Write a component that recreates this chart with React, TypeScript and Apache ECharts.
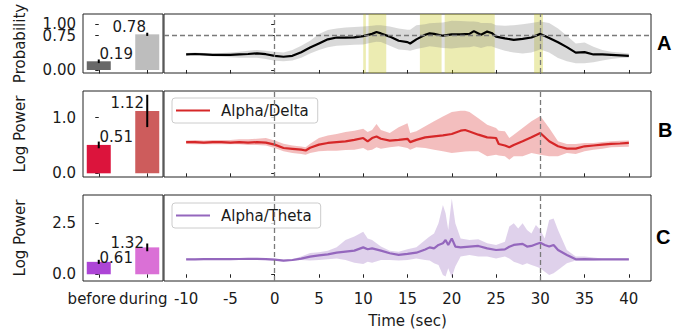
import React, { useEffect, useRef } from 'react';
import * as echarts from 'echarts';

// ---------- data ----------
const barCats = ['before', 'during'];
const probMeans = [0.19, 0.78];
const probErr = [0.04, 0.035];
const adMeans = [0.51, 1.12];
const adErr = [0.06, 0.29];
const atMeans = [0.61, 1.32];
const atErr = [0.1, 0.19];

const timeTicks = [-10, -5, 0, 5, 10, 15, 20, 25, 30, 35, 40];
const yTicksA = [0, 0.75, 1.0];
const yTicksB = [0, 1.0];
const yTicksC = [0, 2.5];
const eventLines = [0, 30];
const chanceLevel = 0.75;
const spans = [
  [10, 10.3],
  [10.6, 12.6],
  [16.4, 18.85],
  [19.2, 24.85],
  [29.3, 30.3],
];

const timeA = [-10, -9, -8, -7, -6, -5, -4, -3, -2, -1, 0, 1, 2, 3, 4, 5, 6, 7, 8, 9, 10, 11, 11.5, 12, 13, 14, 15, 15.3, 16, 17, 17.5, 18, 19, 20, 21, 22, 22.5, 23, 23.3, 24, 24.5, 25, 26, 27, 28, 29, 30, 31, 32, 33, 34, 35, 36, 37, 38, 39, 40];
const meanA = [0.34, 0.35, 0.34, 0.33, 0.33, 0.33, 0.34, 0.35, 0.365, 0.345, 0.31, 0.29, 0.31, 0.39, 0.49, 0.58, 0.67, 0.71, 0.71, 0.715, 0.74, 0.79, 0.83, 0.8, 0.73, 0.64, 0.61, 0.58, 0.67, 0.77, 0.8, 0.79, 0.75, 0.78, 0.78, 0.79, 0.85, 0.8, 0.77, 0.84, 0.81, 0.73, 0.69, 0.66, 0.68, 0.71, 0.79, 0.7, 0.605, 0.5, 0.38, 0.39, 0.34, 0.34, 0.33, 0.32, 0.31];
const highA = [0.37, 0.38, 0.37, 0.36, 0.37, 0.38, 0.4, 0.42, 0.44, 0.42, 0.4, 0.38, 0.44, 0.53, 0.64, 0.79, 0.875, 0.91, 0.93, 0.94, 0.95, 0.97, 0.98, 0.98, 0.95, 0.91, 0.88, 0.88, 0.98, 1.0, 1.02, 1.03, 1.04, 1.08, 1.07, 1.06, 1.06, 1.05, 1.03, 1.03, 1.02, 0.98, 0.97, 0.98, 1.0, 1.03, 1.06, 1.03, 0.91, 0.75, 0.58, 0.6, 0.51, 0.44, 0.4, 0.38, 0.36];
const lowA = [0.31, 0.32, 0.31, 0.3, 0.29, 0.28, 0.27, 0.27, 0.27, 0.24, 0.2, 0.19, 0.21, 0.27, 0.36, 0.44, 0.5, 0.53, 0.54, 0.55, 0.56, 0.6, 0.62, 0.61, 0.53, 0.45, 0.43, 0.42, 0.46, 0.5, 0.52, 0.51, 0.48, 0.47, 0.49, 0.5, 0.52, 0.5, 0.48, 0.52, 0.52, 0.48, 0.42, 0.38, 0.36, 0.38, 0.45, 0.38, 0.26, 0.19, 0.15, 0.15, 0.17, 0.21, 0.24, 0.26, 0.27];

const timeB = [-10, -9, -8, -7, -6, -5, -4, -3, -2, -1, 0, 1, 2, 3, 3.5, 4, 5, 6, 7, 8, 9, 10, 10.5, 11, 11.5, 12, 13, 14, 15, 15.3, 16, 17, 18, 19, 20, 21, 21.5, 22, 23, 24, 25, 25.3, 26, 26.5, 27, 28, 29, 30, 31, 32, 33, 34, 35, 36, 37, 38, 39, 40];
const meanB = [0.56, 0.56, 0.55, 0.56, 0.56, 0.55, 0.56, 0.55, 0.56, 0.55, 0.515, 0.455, 0.44, 0.425, 0.41, 0.46, 0.515, 0.545, 0.56, 0.575, 0.6, 0.634, 0.575, 0.634, 0.66, 0.62, 0.587, 0.6, 0.62, 0.56, 0.6, 0.646, 0.664, 0.68, 0.706, 0.766, 0.778, 0.75, 0.694, 0.646, 0.634, 0.527, 0.5, 0.467, 0.51, 0.575, 0.646, 0.724, 0.575, 0.485, 0.443, 0.443, 0.485, 0.5, 0.515, 0.53, 0.535, 0.545];
const highB = [0.59, 0.6, 0.59, 0.6, 0.6, 0.6, 0.61, 0.61, 0.62, 0.634, 0.59, 0.53, 0.5, 0.48, 0.47, 0.53, 0.634, 0.68, 0.706, 0.74, 0.766, 0.8, 0.74, 0.78, 0.886, 0.78, 0.724, 0.826, 0.9, 0.724, 0.754, 0.844, 0.934, 1.02, 1.1, 1.125, 1.125, 1.1, 0.99, 0.874, 0.814, 0.766, 0.754, 0.634, 0.694, 0.814, 0.934, 1.03, 0.814, 0.575, 0.527, 0.527, 0.545, 0.545, 0.563, 0.575, 0.586, 0.59];
const lowB = [0.527, 0.52, 0.52, 0.52, 0.52, 0.52, 0.52, 0.51, 0.51, 0.5, 0.455, 0.395, 0.365, 0.347, 0.335, 0.365, 0.395, 0.407, 0.407, 0.42, 0.425, 0.455, 0.41, 0.425, 0.467, 0.443, 0.467, 0.485, 0.455, 0.425, 0.467, 0.455, 0.425, 0.395, 0.365, 0.383, 0.39, 0.395, 0.395, 0.305, 0.335, 0.32, 0.305, 0.245, 0.305, 0.305, 0.365, 0.335, 0.305, 0.305, 0.365, 0.347, 0.395, 0.425, 0.443, 0.467, 0.473, 0.479];

const timeC = [-10, -9, -8, -7, -6, -5, -4, -3, -2, -1, 0, 1, 2, 3, 4, 5, 6, 7, 8, 9, 10, 10.5, 11, 12, 13, 14, 15, 16, 17, 17.5, 18, 18.5, 19, 19.3, 19.6, 20, 20.4, 21, 22, 23, 24, 25, 26, 26.5, 27, 27.5, 28, 28.5, 29, 29.5, 30, 30.5, 31, 31.5, 32, 33, 34, 35, 36, 37, 38, 39, 40];
const meanC = [0.735, 0.735, 0.74, 0.74, 0.745, 0.745, 0.75, 0.755, 0.76, 0.745, 0.72, 0.67, 0.7, 0.77, 0.866, 0.93, 0.98, 1.06, 1.11, 1.16, 1.32, 1.23, 1.27, 1.16, 1.03, 0.95, 1.0, 1.06, 1.22, 1.32, 1.27, 1.44, 1.52, 1.68, 1.44, 1.76, 1.36, 1.32, 1.36, 1.39, 1.27, 1.19, 1.22, 1.35, 1.44, 1.47, 1.49, 1.36, 1.39, 1.47, 1.55, 1.44, 1.36, 1.44, 1.19, 0.95, 0.735, 0.74, 0.735, 0.735, 0.735, 0.735, 0.735];
const highC = [0.775, 0.775, 0.78, 0.78, 0.785, 0.785, 0.79, 0.795, 0.8, 0.785, 0.76, 0.71, 0.74, 0.87, 1.05, 1.08, 1.15, 1.33, 1.68, 1.85, 2.09, 1.76, 1.68, 1.36, 1.16, 1.11, 1.23, 1.32, 1.68, 1.85, 2.0, 2.5, 3.4, 3.0, 2.17, 3.72, 2.5, 1.76, 1.68, 1.72, 1.52, 1.44, 1.6, 2.34, 2.5, 2.25, 2.5, 2.17, 2.0, 2.42, 2.17, 1.76, 2.66, 2.74, 2.17, 1.19, 0.87, 0.87, 0.82, 0.775, 0.775, 0.775, 0.775];
const lowC = [0.695, 0.695, 0.7, 0.7, 0.705, 0.705, 0.71, 0.715, 0.72, 0.705, 0.68, 0.63, 0.66, 0.7, 0.67, 0.7, 0.735, 0.78, 0.7, 0.57, 0.51, 0.62, 0.57, 0.7, 0.7, 0.67, 0.7, 0.78, 0.7, 0.67, 0.54, 0.46, -0.03, -0.11, 0.29, -0.15, 0.38, 0.87, 0.95, 0.87, 0.87, 0.78, 0.87, 0.78, 0.62, 0.54, 0.46, 0.54, 0.46, 0.38, 0.29, 0.13, -0.03, 0.05, 0.21, 0.54, 0.67, 0.67, 0.67, 0.695, 0.695, 0.695, 0.695];

// ---------- styling ----------
const FONT = 'DejaVu Sans';
const TXT = '#1a1a1a';
const AX = '#222';
const T_MIN = -12.5;
const T_MAX = 42.5;
const B_MIN = -0.325;
const B_MAX = 1.325;

const rows = [
  { top: 14, height: 59, yMin: -0.066, yMax: 1.225, ticks: yTicksA, dec: 2, name: 'Probability' },
  { top: 91, height: 86, yMin: -0.066, yMax: 1.478, ticks: yTicksB, dec: 1, name: 'Log Power' },
  { top: 195, height: 86, yMin: -0.33, yMax: 3.89, ticks: yTicksC, dec: 1, name: 'Log Power' },
];

function buildOption() {
  const grid: any[] = [];
  const xAxis: any[] = [];
  const yAxis: any[] = [];
  const lab = { fontSize: 15, fontFamily: FONT, color: TXT, hideOverlap: false };
  const tickStyle = { show: true, length: 3.5, lineStyle: { color: AX, width: 1 } };
  rows.forEach((r, i) => {
    const last = i === rows.length - 1;
    grid.push({ left: 83, top: r.top, width: 80, height: r.height, show: true, borderColor: AX, borderWidth: 1, backgroundColor: 'transparent' });
    grid.push({ left: 164, top: r.top, width: 487, height: r.height, show: true, borderColor: AX, borderWidth: 1, backgroundColor: 'transparent' });
    xAxis.push({
      type: 'value', gridIndex: 2 * i, min: B_MIN, max: B_MAX,
      axisLine: { show: false }, splitLine: { show: false },
      axisTick: { ...tickStyle, customValues: [0, 1] },
      axisLabel: {
        ...lab, show: last, customValues: [0, 1], margin: 10,
        formatter: (v: number) => (Math.round(v) === 0 ? '{a|' + barCats[0] + '}' : '{b|' + barCats[1] + '}'),
        rich: {
          a: { fontSize: 15, fontFamily: FONT, color: TXT, padding: [0, 14, 0, 0] },
          b: { fontSize: 15, fontFamily: FONT, color: TXT, padding: [0, 8, 0, 0] },
        },
      },
    });
    xAxis.push({
      type: 'value', gridIndex: 2 * i + 1, min: T_MIN, max: T_MAX,
      axisLine: { show: false }, splitLine: { show: false },
      axisTick: { ...tickStyle, customValues: timeTicks },
      axisLabel: { ...lab, show: last, customValues: timeTicks, margin: 10, formatter: (v: number) => String(v) },
      name: last ? 'Time (sec)' : '', nameLocation: 'middle', nameGap: 32,
      nameTextStyle: { fontSize: 15, fontFamily: FONT, color: TXT },
    });
    // main y axis of the bar panel: all ticks, all labels except the top one
    const lower = r.ticks.slice(0, r.ticks.length - 1);
    const top = r.ticks.slice(r.ticks.length - 1);
    yAxis.push({
      type: 'value', gridIndex: 2 * i, min: r.yMin, max: r.yMax,
      axisLine: { show: false }, splitLine: { show: false },
      axisTick: { ...tickStyle, customValues: r.ticks },
      axisLabel: { ...lab, customValues: lower, margin: 7, formatter: (v: number) => v.toFixed(r.dec) },
      name: r.name, nameLocation: 'middle', nameGap: 56,
      nameTextStyle: { fontSize: 15, fontFamily: FONT, color: TXT },
    });
    yAxis.push({
      type: 'value', gridIndex: 2 * i + 1, min: r.yMin, max: r.yMax,
      axisLine: { show: false }, splitLine: { show: false },
      axisTick: { ...tickStyle, customValues: r.ticks },
      axisLabel: { show: false },
    });
    // overlay axis carrying the top tick label (avoids automatic overlap hiding)
    yAxis.push({
      type: 'value', gridIndex: 2 * i, min: r.yMin, max: r.yMax, position: 'left', offset: 0,
      axisLine: { show: false }, splitLine: { show: false },
      axisTick: { show: false },
      axisLabel: { ...lab, customValues: top, margin: 7, formatter: (v: number) => v.toFixed(r.dec) },
    });
  });
  // yAxis index mapping: row i -> bar: 3*i, line: 3*i+1
  const yb = (i: number) => 3 * i;
  const yl = (i: number) => 3 * i + 1;

  const barSeries = (row: number, means: number[], errs: number[], colors: string[], offsets: number[][]) => [
    {
      type: 'bar', xAxisIndex: 2 * row, yAxisIndex: yb(row), barWidth: 24, z: 2,
      data: means.map((m, j) => ({ value: [j, m], itemStyle: { color: colors[j] }, label: { offset: offsets[j] } })),
      label: {
        show: true, position: 'top', fontSize: 15, fontFamily: FONT, color: TXT, lineHeight: 13,
        formatter: (p: any) => p.value[1].toFixed(2),
      },
    },
    {
      type: 'custom', xAxisIndex: 2 * row, yAxisIndex: yb(row), z: 4, silent: true,
      data: means.map((m, j) => [j, m - errs[j], m + errs[j]]),
      renderItem: (_p: any, api: any) => {
        const a = api.coord([api.value(0), api.value(1)]);
        const b = api.coord([api.value(0), api.value(2)]);
        return { type: 'line', shape: { x1: a[0], y1: a[1], x2: b[0], y2: b[1] }, style: { stroke: '#000', lineWidth: 2 } };
      },
    },
  ];

  const bandSeries = (row: number, t: number[], lo: number[], hi: number[], fill: string) => ({
    type: 'custom', xAxisIndex: 2 * row + 1, yAxisIndex: yl(row), z: 1, silent: true, clip: true,
    data: t.map((v, j) => [v, lo[j], hi[j]]),
    renderItem: (p: any, api: any) => {
      if (p.dataIndex !== 0) return { type: 'group', children: [] };
      const pts: number[][] = [];
      for (let j = 0; j < t.length; j++) pts.push(api.coord([t[j], hi[j]]));
      for (let j = t.length - 1; j >= 0; j--) pts.push(api.coord([t[j], lo[j]]));
      return { type: 'polygon', shape: { points: pts }, style: { fill } };
    },
  });

  const dashed = { color: '#7a7a7a', type: [5, 3], width: 1.3 };
  const meanSeries = (row: number, name: string, t: number[], m: number[], color: string, extraLines: any[], areas?: any) => ({
    type: 'line', name, xAxisIndex: 2 * row + 1, yAxisIndex: yl(row), z: 3,
    data: t.map((v, j) => [v, m[j]]),
    symbol: 'none', showSymbol: false, color,
    lineStyle: { color, width: 2.2 },
    markLine: {
      silent: true, symbol: ['none', 'none'], label: { show: false }, lineStyle: dashed,
      data: [...eventLines.map((x) => ({ xAxis: x })), ...extraLines],
    },
    ...(areas ? { markArea: areas } : {}),
  });

  const series: any[] = [
    ...barSeries(0, probMeans, probErr, ['#686868', '#bdbdbd'], [[17.5, 4], [-18, 4]]),
    bandSeries(0, timeA, lowA, highA, 'rgba(128,128,128,0.3)'),
    meanSeries(0, 'Probability', timeA, meanA, '#000000', [{ yAxis: chanceLevel }], {
      silent: true, itemStyle: { color: 'rgba(191,191,0,0.3)' },
      data: spans.map((s) => [{ xAxis: s[0] }, { xAxis: s[1] }]),
    }),
    ...barSeries(1, adMeans, adErr, ['#dc143c', '#cd5c5c'], [[17.5, 4], [-20, 4]]),
    bandSeries(1, timeB, lowB, highB, 'rgba(214,39,40,0.3)'),
    meanSeries(1, 'Alpha/Delta', timeB, meanB, '#d62728', []),
    ...barSeries(2, atMeans, atErr, ['#ad45d6', '#da70d6'], [[17.5, 8], [-20, 7]]),
    bandSeries(2, timeC, lowC, highC, 'rgba(148,103,189,0.3)'),
    meanSeries(2, 'Alpha/Theta', timeC, meanC, '#9467bd', []),
  ];

  const legendBase = {
    orient: 'horizontal', itemWidth: 34, itemHeight: 2, selectedMode: false,
    padding: [5, 9, 5, 4], backgroundColor: 'rgba(255,255,255,0.8)', borderColor: '#cccccc', borderWidth: 1, borderRadius: 3,
    textStyle: { fontSize: 15, fontFamily: FONT, color: TXT, padding: [0, 0, 0, 6] },
  };
  const legend = [
    { ...legendBase, left: 172, top: 98, data: [{ name: 'Alpha/Delta', icon: 'rect' }] },
    { ...legendBase, left: 172, top: 203, data: [{ name: 'Alpha/Theta', icon: 'rect' }] },
  ];

  const panelStyle = { fontSize: 20, fontWeight: 'bold', fontFamily: 'Liberation Sans', color: '#000' };
  const title = [
    { text: 'A', left: 657, top: 33, padding: 0, textStyle: panelStyle },
    { text: 'B', left: 658, top: 120, padding: 0, textStyle: panelStyle },
    { text: 'C', left: 656, top: 227, padding: 0, textStyle: panelStyle },
  ];

  return { animation: false, backgroundColor: '#ffffff', grid, xAxis, yAxis, series, legend, title };
}

export default function App() {
  const ref = useRef<HTMLDivElement>(null);
  useEffect(() => {
    if (!ref.current) return;
    const chart = echarts.init(ref.current, null, { renderer: 'svg' });
    chart.setOption(buildOption() as any);
    return () => chart.dispose();
  }, []);
  return <div ref={ref} style={{ position: 'absolute', left: 0, top: 0, width: 693, height: 331 }} />;
}
